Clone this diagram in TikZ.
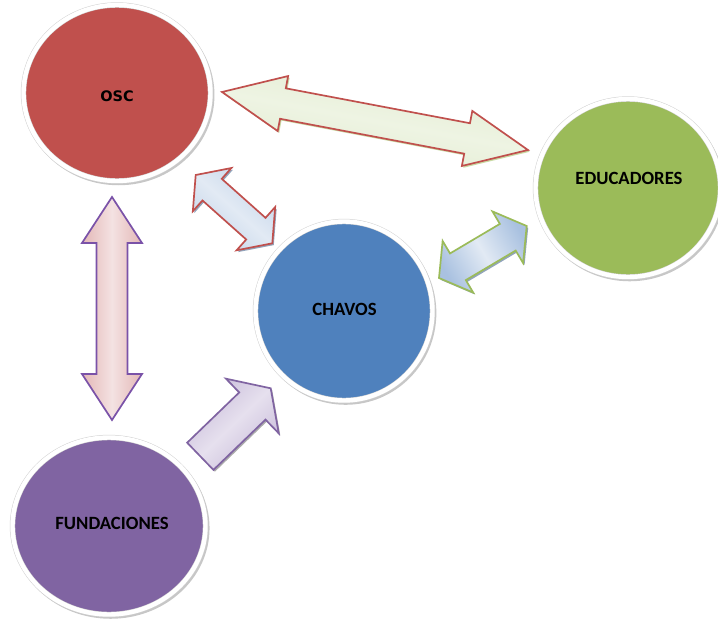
\documentclass[tikz,border=0pt]{standalone}
\usepackage{fontspec}
\setmainfont{Carlito}
\newfontfamily\widesans{DejaVu Sans}
\usetikzlibrary{calc,shapes.geometric,shadows}

% theme colours
\definecolor{oscred}{HTML}{C0504D}
\definecolor{edugreen}{HTML}{9BBB59}
\definecolor{chavblue}{HTML}{4F81BD}
\definecolor{fundpurple}{HTML}{8064A2}
\definecolor{lineviolet}{HTML}{7A52A8}
\definecolor{greenlite}{HTML}{EEF4E3}
\definecolor{greenmid}{HTML}{E2EBD0}
\definecolor{bluelite}{HTML}{E2EAF4}
\definecolor{bluemid}{HTML}{C4D5EA}
\definecolor{bluedeep}{HTML}{A9C1E0}
\definecolor{pinklite}{HTML}{F4E2E2}
\definecolor{pinkmid}{HTML}{E3B7B6}
\definecolor{lavlite}{HTML}{E6E0EE}
\definecolor{lavmid}{HTML}{C9BDDA}

\tikzset{
  bubble/.style={ellipse, inner sep=0pt, draw=black!18, double=white,
    double distance=4.4pt, line width=0.5pt,
    drop shadow={shadow xshift=1.6pt, shadow yshift=-2pt, shadow scale=1.025,
      fill=black, opacity=.22}},
  bubbletext/.style={font=\bfseries\fontsize{18.7}{22}\selectfont, text=black, inner sep=0pt},
  blockarrow/.style={line width=1.7pt, line join=miter, shading=axis},
  arrowshadow/.style={drop shadow={shadow xshift=1.5pt, shadow yshift=-1.8pt,
      fill=#1, opacity=.55}},
}

% double-headed block arrow: style, tip, tip, shaft half width, head half width, head length
\newcommand\dblblock[6]{%
  \path[#1] (#2)
    -- ($(#2)!#6!(#3)!#5!90:(#3)$) -- ($(#2)!#6!(#3)!#4!90:(#3)$)
    -- ($(#3)!#6!(#2)!#4!-90:(#2)$) -- ($(#3)!#6!(#2)!#5!-90:(#2)$)
    -- (#3)
    -- ($(#3)!#6!(#2)!#5!90:(#2)$) -- ($(#3)!#6!(#2)!#4!90:(#2)$)
    -- ($(#2)!#6!(#3)!#4!-90:(#3)$) -- ($(#2)!#6!(#3)!#5!-90:(#3)$)
    -- cycle;}

% single-headed block arrow: style, tail, tip, shaft half width, head half width, head length
\newcommand\oneblock[6]{%
  \path[#1] ($(#2)!#4!90:(#3)$)
    -- ($(#3)!#6!(#2)!#4!-90:(#2)$) -- ($(#3)!#6!(#2)!#5!-90:(#2)$)
    -- (#3)
    -- ($(#3)!#6!(#2)!#5!90:(#2)$) -- ($(#3)!#6!(#2)!#4!90:(#2)$)
    -- ($(#2)!#4!-90:(#3)$) -- cycle;}

\begin{document}
\begin{tikzpicture}[x=1pt, y=-1pt]
  \useasboundingbox (0,0) rectangle (718,621);

  % the four actors
  \node[bubble, fill=oscred, minimum width=187pt, minimum height=176pt] (osc) at (117,93) {};
  \node[bubble, fill=edugreen, minimum width=185pt, minimum height=178pt] (edu) at (628,188) {};
  \node[bubble, fill=chavblue, minimum width=177pt, minimum height=179pt] (chavos) at (344,311) {};
  \node[bubble, fill=fundpurple, minimum width=193pt, minimum height=177pt] (fund) at (109,526) {};

  \node[bubbletext, font=\widesans\bfseries\fontsize{14.5}{17}\selectfont] (osc-t) at (117,96) {OSC};
  \node[bubbletext] (edu-t) at (629,178) {EDUCADORES};
  \node[bubbletext] (chavos-t) at (344.5,309) {CHAVOS};
  \node[bubbletext] (fund-t) at (112,523) {FUNDACIONES};

  % arrow end points
  \coordinate (oe1) at (222,92);
  \coordinate (oe2) at (528,150);
  \coordinate (oc1) at (195.7,175);
  \coordinate (oc2) at (272.3,243.3);
  \coordinate (ce1) at (439,278);
  \coordinate (ce2) at (526.7,226);
  \coordinate (of1) at (112,197);
  \coordinate (of2) at (112,420);
  \coordinate (fc1) at (200.3,456.3);
  \coordinate (fc2) at (270.7,388.3);

  % OSC <-> EDUCADORES
  \dblblock{blockarrow, draw=oscred, top color=greenmid, bottom color=greenmid,
    middle color=greenlite, shading angle=-10.7, arrowshadow=edugreen}
    {oe1}{oe2}{15.5pt}{28pt}{62pt}
  % OSC <-> CHAVOS
  \dblblock{blockarrow, draw=oscred, top color=bluemid, bottom color=bluemid,
    middle color=bluelite, shading angle=-41.7, arrowshadow=chavblue!70!black}
    {oc1}{oc2}{14.5pt}{29pt}{22pt}
  % CHAVOS <-> EDUCADORES
  \dblblock{blockarrow, draw=edugreen, top color=bluedeep, bottom color=bluedeep,
    middle color=bluelite, shading angle=120, arrowshadow=chavblue!70!black}
    {ce1}{ce2}{15.5pt}{30pt}{22pt}
  % OSC <-> FUNDACIONES
  \dblblock{blockarrow, draw=lineviolet, left color=pinkmid, right color=pinkmid,
    middle color=pinklite, shading angle=90}
    {of1}{of2}{15.5pt}{30pt}{46pt}
  % FUNDACIONES -> CHAVOS
  \oneblock{blockarrow, draw=fundpurple, top color=lavmid, bottom color=lavmid,
    middle color=lavlite, shading angle=44, arrowshadow=black!60}
    {fc1}{fc2}{18.9pt}{38pt}{25.5pt}
\end{tikzpicture}
\end{document}
